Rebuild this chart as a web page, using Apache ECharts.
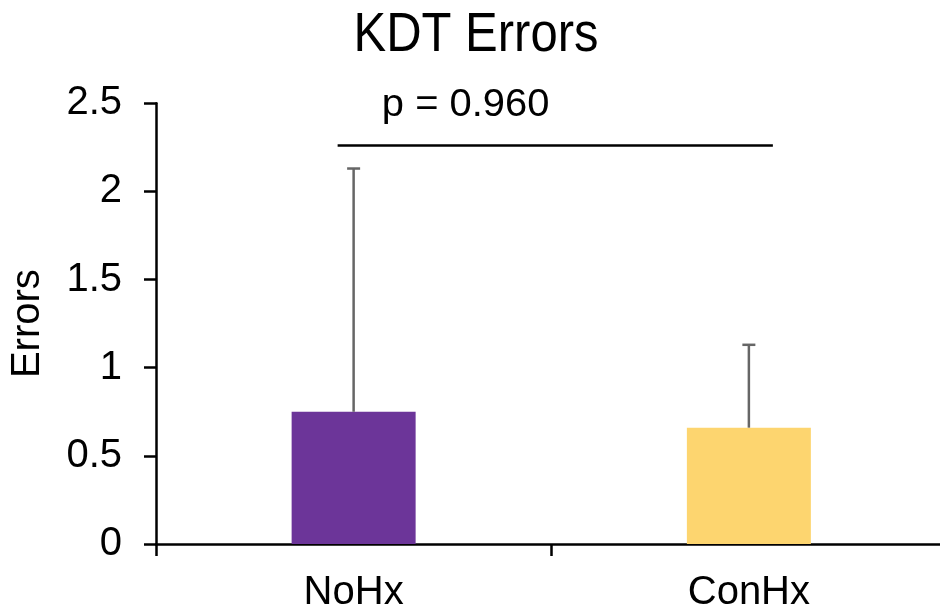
<!DOCTYPE html>
<html>
<head>
<meta charset="utf-8">
<script src="https://cdn.jsdelivr.net/npm/echarts@6/dist/echarts.min.js"></script>
<style>
  html, body { margin: 0; padding: 0; background: #fff; overflow: hidden; }
  #chart { width: 960px; height: 613px; }
</style>
</head>
<body>
<div id="chart"></div>
<script>
// Group labels, means and upper standard deviations
var categories = ['NoHx', 'ConHx'];
var means = [0.75, 0.66];
var sds = [1.38, 0.47];
var barColors = ['#6C3599', '#FDD56F'];
var yTicks = { min: 0, max: 2.5, step: 0.5 };
// Significance bracket between the two groups
var sigLevel = 2.26;
var sigText = 'p = 0.960';
var titleText = 'KDT Errors';

var FONT = '"Liberation Sans", Arial, Helvetica, sans-serif';
var chart = echarts.init(document.getElementById('chart'));

var errData = categories.map(function (c, i) { return [i, means[i], means[i] + sds[i]]; });

chart.setOption({
  animation: false,
  graphic: [{
    // slightly tall title lettering
    type: 'text',
    x: 476,
    y: 8,
    scaleY: 1.13,
    style: {
      text: titleText, align: 'center', verticalAlign: 'top',
      font: '49px ' + FONT, fill: '#000'
    }
  }],
  grid: { left: 153.5, top: 103.3, width: 793, bottom: 69, containLabel: false },
  xAxis: {
    type: 'category',
    data: categories,
    axisLine: { lineStyle: { color: '#000', width: 2.5 } },
    axisTick: { show: true, length: 12, lineStyle: { color: '#000', width: 2.5 } },
    axisLabel: { margin: 29, color: '#000', fontFamily: FONT, fontSize: 40 },
    splitLine: { show: false }
  },
  yAxis: {
    type: 'value',
    min: yTicks.min,
    max: yTicks.max,
    interval: yTicks.step,
    name: 'Errors',
    nameLocation: 'middle',
    nameGap: 108,
    nameTextStyle: { fontFamily: FONT, fontSize: 40, color: '#000' },
    axisLine: { show: true, lineStyle: { color: '#000', width: 2.5 } },
    axisTick: { show: true, length: 12, lineStyle: { color: '#000', width: 2.5 } },
    axisLabel: { margin: 34, color: '#000', fontFamily: FONT, fontSize: 40 },
    splitLine: { show: false }
  },
  series: [
    {
      type: 'bar',
      barWidth: 124,
      data: means.map(function (v, i) { return { value: v, itemStyle: { color: barColors[i] } }; }),
      z: 2
    },
    {
      // upper error bars with caps
      type: 'custom',
      data: errData,
      z: 3,
      renderItem: function (params, api) {
        var base = api.coord([api.value(0), api.value(1)]);
        var top = api.coord([api.value(0), api.value(2)]);
        var half = 6.5;
        var style = { stroke: '#666', lineWidth: 2.5 };
        return {
          type: 'group',
          children: [
            { type: 'line', shape: { x1: base[0], y1: base[1], x2: top[0], y2: top[1] }, style: style },
            { type: 'line', shape: { x1: top[0] - half, y1: top[1], x2: top[0] + half, y2: top[1] }, style: style }
          ]
        };
      }
    },
    {
      // significance line and p-value text
      type: 'custom',
      data: [[0, 1, sigLevel]],
      z: 4,
      renderItem: function (params, api) {
        var a = api.coord([api.value(0), api.value(2)]);
        var b = api.coord([api.value(1), api.value(2)]);
        var x1 = a[0] - 16, x2 = b[0] + 24;
        return {
          type: 'group',
          children: [
            { type: 'line', shape: { x1: x1, y1: a[1], x2: x2, y2: a[1] }, style: { stroke: '#000', lineWidth: 2.5 } },
            {
              type: 'text',
              x: x1 + 128,
              y: a[1] - 21,
              scaleX: 1.05,
              style: {
                text: sigText, x: 0, y: 0,
                align: 'center', verticalAlign: 'bottom',
                font: '38px ' + FONT, fill: '#000'
              }
            }
          ]
        };
      }
    }
  ]
});
</script>
</body>
</html>
